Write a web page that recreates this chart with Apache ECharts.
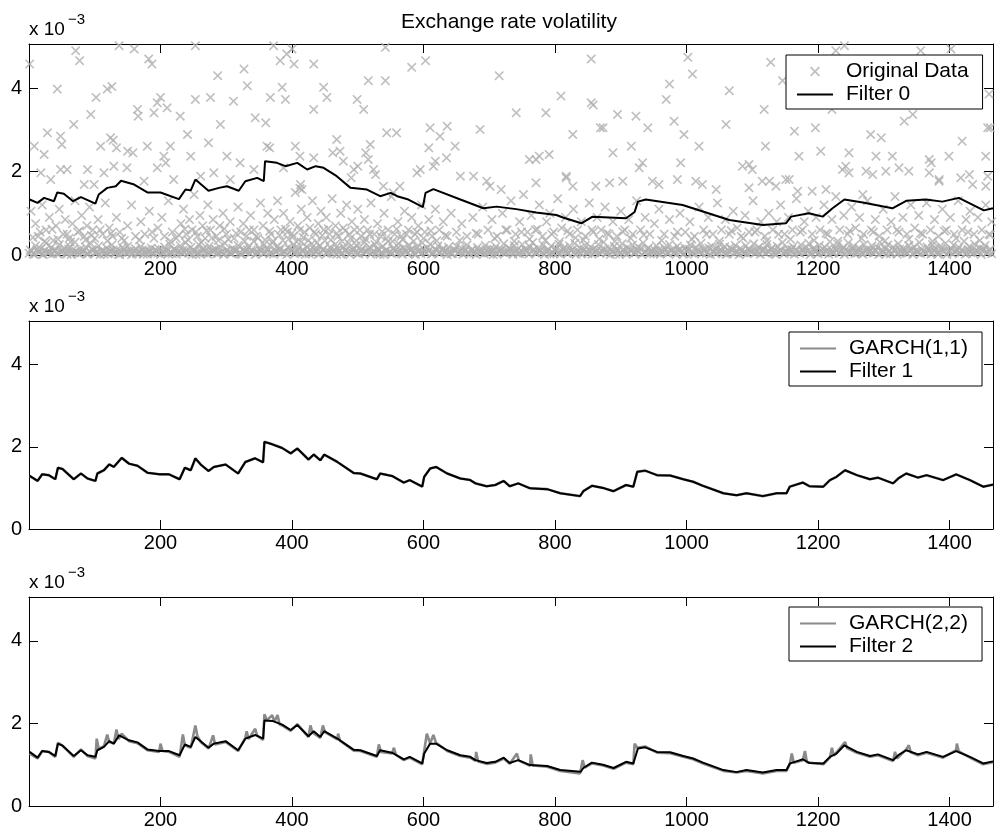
<!DOCTYPE html>
<html>
<head>
<meta charset="utf-8">
<title>Exchange rate volatility</title>
<script src="https://cdn.jsdelivr.net/npm/echarts@6.0.0/dist/echarts.min.js"></script>
<style>
  html, body { margin: 0; padding: 0; background: #fff; }
  #chart { width: 996px; height: 833px; }
</style>
</head>
<body>
<div id="chart"></div>
<script>
// values are in units of 1e-3, x is the observation index
const xTicks = [200, 400, 600, 800, 1000, 1200, 1400];
const yTicks = [0, 2, 4];

// squared returns: the dense band near zero, one value every 4 observations from x = 2
const lowStart = 2;
const lowStep = 4;
const lowBand = [
  0.12,0.03,0.22,0.08,0.15,0.01,0.28,0.06,0.18,0.10,
  0.04,0.25,0.09,0.16,0.02,0.20,0.11,0.31,0.05,0.14,
  0.08,0.19,0.03,0.27,0.12,0.06,0.22,0.10,0.02,0.17,
  0.09,0.24,0.05,0.13,0.01,0.18,0.07,0.21,0.11,0.04,
  0.15,0.06,0.20,0.02,0.12,0.08,0.17,0.03,0.10,0.14,
  0.05,0.19,0.09,0.26,0.03,0.13,0.07,0.22,0.11,0.30,
  0.06,0.18,0.12,0.02,0.25,0.08,0.15,0.04,0.21,0.10,
  0.13,0.03,0.19,0.07,0.28,0.11,0.05,0.16,0.09,0.23,
  0.02,0.14,0.08,0.20,0.12,0.33,0.06,0.17,0.10,0.26,
  0.15,0.04,0.29,0.09,0.21,0.13,0.35,0.07,0.18,0.11,
  0.24,0.06,0.16,0.31,0.10,0.20,0.03,0.27,0.14,0.08,
  0.22,0.12,0.34,0.05,0.18,0.09,0.26,0.15,0.02,0.20,
  0.11,0.28,0.07,0.17,0.23,0.04,0.14,0.30,0.09,0.19,
  0.06,0.25,0.13,0.02,0.21,0.10,0.32,0.07,0.16,0.12,
  0.27,0.05,0.18,0.09,0.24,0.14,0.03,0.20,0.11,0.29,
  0.08,0.17,0.26,0.04,0.13,0.22,0.07,0.15,0.10,0.19,
  0.03,0.12,0.21,0.06,0.16,0.09,0.24,0.02,0.14,0.08,
  0.18,0.05,0.11,0.23,0.07,0.15,0.01,0.20,0.10,0.13,
  0.27,0.06,0.17,0.09,0.22,0.12,0.04,0.25,0.14,0.08,
  0.19,0.30,0.05,0.16,0.11,0.24,0.07,0.13,0.21,0.03,
  0.15,0.26,0.09,0.18,0.04,0.22,0.12,0.28,0.06,0.17,
  0.10,0.23,0.03,0.19,0.14,0.08,0.25,0.11,0.31,0.05,
  0.16,0.09,0.21,0.13,0.02,0.27,0.07,0.18,0.12,0.24,
  0.06,0.20,0.15,0.29,0.08,0.17,0.11,0.03,0.22,0.13,
  0.09,0.18,0.05,0.25,0.12,0.07,0.21,0.14,0.02,0.16,
  0.11,0.24,0.06,0.19,0.09,0.28,0.13,0.04,0.17,0.21,
  0.07,0.15,0.26,0.10,0.20,0.03,0.18,0.12,0.23,0.08,
  0.16,0.05,0.22,0.13,0.09,0.27,0.06,0.19,0.11,0.14,
  0.25,0.08,0.17,0.03,0.21,0.12,0.30,0.07,0.15,0.10,
  0.20,0.13,0.06,0.24,0.09,0.18,0.28,0.04,0.16,0.11,
  0.23,0.07,0.19,0.12,0.32,0.05,0.15,0.26,0.09,0.18,
  0.13,0.29,0.06,0.21,0.10,0.17,0.04,0.25,0.14,0.08,
  0.22,0.11,0.18,0.31,0.07,0.15,0.24,0.03,0.19,0.12,
  0.27,0.09,0.16,0.05,0.23,0.13,0.20,0.08,0.30,0.14,
  0.06,0.19,0.11,0.25,0.17,0.02,0.22,0.10,0.28,0.07,
  0.15,0.24,0.09,0.18,0.12,0.33,0.05,0.20,0.13,0.26,
  0.08,0.17,0.11,0.23,0.06,0.14
];

// the smallest squared returns, one every 4 observations from x = 0
const tinyStart = 0;
const tinyStep = 4;
const tinyBand = [
  0.04,0.09,0.01,0.13,0.06,0.02,0.11,0.05,0.08,0.03,
  0.12,0.02,0.07,0.10,0.04,0.14,0.01,0.06,0.09,0.03,
  0.05,0.11,0.02,0.08,0.13,0.04,0.07,0.01,0.10,0.06,
  0.03,0.09,0.12,0.05,0.02,0.08,0.14,0.04,0.06,0.01,
  0.10,0.03,0.07,0.12,0.05,0.02,0.09,0.06,0.13,0.04,
  0.01,0.08,0.11,0.03,0.06,0.14,0.02,0.09,0.05,0.07,
  0.12,0.04,0.01,0.10,0.06,0.03,0.13,0.08,0.02,0.05,
  0.09,0.14,0.04,0.07,0.01,0.11,0.06,0.03,0.10,0.12,
  0.05,0.02,0.08,0.13,0.04,0.09,0.01,0.06,0.11,0.03,
  0.07,0.12,0.05,0.02,0.10,0.14,0.04,0.08,0.01,0.06,
  0.13,0.03,0.09,0.05,0.11,0.02,0.07,0.12,0.04,0.10,
  0.01,0.06,0.14,0.03,0.08,0.05,0.12,0.02,0.09,0.04,
  0.11,0.07,0.01,0.13,0.06,0.03,0.10,0.05,0.08,0.14,
  0.02,0.09,0.04,0.12,0.06,0.01,0.11,0.07,0.03,0.10,
  0.05,0.13,0.02,0.08,0.04,0.12,0.06,0.01,0.09,0.03,
  0.14,0.05,0.10,0.02,0.07,0.11,0.04,0.13,0.06,0.01,
  0.08,0.03,0.12,0.05,0.09,0.02,0.14,0.06,0.10,0.04,
  0.01,0.11,0.07,0.03,0.13,0.05,0.08,0.12,0.02,0.09,
  0.06,0.04,0.10,0.14,0.01,0.07,0.03,0.11,0.05,0.12,
  0.02,0.08,0.13,0.04,0.09,0.06,0.01,0.10,0.03,0.07,
  0.12,0.05,0.02,0.14,0.08,0.04,0.11,0.06,0.01,0.09,
  0.03,0.13,0.07,0.10,0.02,0.05,0.12,0.04,0.08,0.14,
  0.06,0.01,0.09,0.03,0.11,0.07,0.13,0.02,0.05,0.10,
  0.04,0.12,0.08,0.01,0.06,0.14,0.03,0.09,0.11,0.05,
  0.02,0.07,0.13,0.04,0.10,0.06,0.01,0.12,0.08,0.03,
  0.09,0.14,0.05,0.02,0.11,0.07,0.04,0.13,0.06,0.01,
  0.10,0.03,0.08,0.12,0.05,0.02,0.09,0.14,0.04,0.07,
  0.01,0.11,0.06,0.03,0.13,0.08,0.05,0.10,0.02,0.12,
  0.04,0.09,0.14,0.06,0.01,0.07,0.11,0.03,0.08,0.05,
  0.13,0.02,0.10,0.04,0.12,0.06,0.09,0.01,0.14,0.07,
  0.03,0.11,0.05,0.08,0.02,0.13,0.06,0.10,0.04,0.12,
  0.01,0.09,0.07,0.14,0.03,0.05,0.11,0.02,0.08,0.06,
  0.12,0.04,0.10,0.01,0.13,0.07,0.03,0.09,0.05,0.11,
  0.02,0.14,0.06,0.08,0.04,0.12,0.01,0.10,0.07,0.03,
  0.09,0.05,0.13,0.02,0.11,0.06,0.04,0.14,0.08,0.01,
  0.10,0.03,0.07,0.12,0.05,0.09,0.02,0.13,0.06,0.04,
  0.11,0.08,0.01,0.14,0.05,0.10,0.03
];

// squared returns between about 0.3 and 0.65
const lowMidPoints = [
  [6,0.42],[17,0.55],[24,0.33],[35,0.62],[44,0.38],[58,0.5],[63,0.31],[77,0.58],[86,0.36],[95,0.47],
  [108,0.6],[119,0.34],[125,0.52],[141,0.4],[168,0.36],[187,0.55],[215,0.33],[228,0.48],[237,0.62],[242,0.36],
  [254,0.55],[262,0.3],[270,0.58],[278,0.41],[288,0.35],[297,0.63],[303,0.38],[315,0.52],[328,0.33],[335,0.6],
  [346,0.45],[359,0.36],[366,0.57],[371,0.33],[381,0.48],[390,0.62],[395,0.38],[400,0.52],[407,0.32],[412,0.6],
  [417,0.42],[425,0.35],[434,0.55],[438,0.3],[446,0.47],[455,0.63],[459,0.36],[468,0.52],[476,0.33],[481,0.58],
  [489,0.4],[498,0.34],[503,0.6],[512,0.38],[518,0.5],[528,0.31],[537,0.56],[543,0.4],[553,0.33],[559,0.62],
  [568,0.37],[574,0.5],[585,0.33],[590,0.55],[600,0.4],[611,0.58],[620,0.34],[633,0.47],[655,0.35],[680,0.52],
  [708,0.4],[725,0.6],[738,0.33],[749,0.55],[761,0.38],[773,0.62],[785,0.35],[795,0.5],[807,0.32],[819,0.58],
  [831,0.41],[843,0.36],[856,0.6],[867,0.38],[879,0.52],[891,0.33],[903,0.56],[915,0.4],[935,0.48],[962,0.35],
  [986,0.55],[1008,0.38],[1030,0.5],[1050,0.33],[1068,0.58],[1086,0.4],[1104,0.55],[1122,0.34],[1140,0.5],[1158,0.38],
  [1176,0.6],[1194,0.35],[1212,0.52],[1230,0.33],[1248,0.58],[1266,0.4],[1284,0.55],[1302,0.34],[1320,0.6],[1338,0.38],
  [1356,0.52],[1374,0.33],[1392,0.57],[1410,0.4],[1428,0.55],[1446,0.35],[1462,0.48]
];

// squared returns between about 0.35 and 1.5
const midPoints = [
  [3,1.05],[10,0.75],[14,0.45],[20,1.2],[26,0.6],[31,0.9],[37,0.35],[41,0.7],[46,1.1],[52,0.5],
  [55,0.85],[61,0.4],[66,0.75],[70,1.3],[74,0.55],[80,0.95],[84,0.45],[88,0.7],[92,1.15],[97,0.6],
  [100,0.4],[105,0.85],[112,0.5],[116,1.25],[122,0.65],[127,0.45],[133,0.9],[138,0.55],[145,0.35],[150,0.7],
  [156,1.2],[162,0.45],[170,0.8],[176,0.5],[183,1.05],[190,0.4],[196,0.65],[202,0.9],[206,0.45],[212,1.3],
  [218,0.55],[224,0.4],[231,0.75],[235,1.1],[239,0.5],[244,0.85],[248,0.6],[251,1.45],[256,0.45],[260,0.95],
  [264,0.7],[268,0.4],[272,1.2],[276,0.6],[280,0.85],[285,0.45],[290,0.7],[295,1.0],[300,0.5],[306,0.8],
  [312,0.4],[318,1.15],[322,0.55],[326,0.75],[331,0.45],[337,0.95],[342,0.6],[348,0.4],[352,1.25],[356,0.7],
  [363,1.0],[368,0.5],[373,0.85],[378,1.3],[383,0.6],[387,1.0],[393,0.55],[397,0.8],[402,0.45],[405,1.5],
  [409,0.7],[414,1.1],[419,0.55],[423,0.9],[427,0.65],[431,1.3],[436,0.5],[440,0.75],[444,1.05],[448,0.6],
  [452,0.9],[457,0.5],[461,1.35],[466,0.7],[470,0.45],[474,1.0],[478,0.65],[483,1.2],[487,0.5],[491,0.8],
  [495,0.6],[500,1.1],[505,0.45],[510,0.85],[515,0.6],[520,1.25],[525,0.5],[530,0.75],[535,0.45],[540,1.0],
  [546,0.6],[551,1.4],[556,0.5],[561,0.8],[566,0.45],[571,1.05],[577,0.6],[582,0.9],[587,0.5],[592,0.7],
  [597,1.2],[602,0.55],[608,0.85],[613,0.45],[618,1.1],[624,0.6],[630,0.8],[636,0.45],[642,1.0],[650,0.55],
  [658,0.75],[666,0.45],[675,0.9],[683,0.5],[690,1.15],[698,0.6],[704,0.85],[712,0.45],[720,1.0],[727,0.6],
  [733,1.3],[740,0.5],[746,0.8],[752,1.45],[758,0.55],[764,0.95],[770,0.6],[776,1.2],[781,0.45],[787,0.8],
  [792,1.0],[798,0.55],[804,1.35],[810,0.65],[816,0.9],[822,0.5],[828,1.1],[834,0.6],[840,0.8],[846,0.45],
  [852,1.25],[858,0.55],[864,0.9],[870,0.6],[876,1.15],[882,0.5],[888,0.8],[894,0.45],[900,1.05],[906,0.6],
  [912,0.85],[918,0.5],[924,1.3],[930,0.6],[937,0.9],[944,0.5],[951,0.75],[958,1.1],[966,0.5],[974,0.85],
  [982,0.45],[990,1.0],[998,0.55],[1005,0.8],[1012,0.45],[1019,1.15],[1026,0.6],[1033,0.9],[1040,0.5],[1047,1.25],
  [1053,0.6],[1059,0.85],[1065,0.5],[1071,1.05],[1077,0.65],[1083,0.45],[1089,0.95],[1095,0.55],[1101,1.3],[1107,0.6],
  [1113,0.8],[1119,0.45],[1125,1.0],[1131,0.6],[1137,0.8],[1143,1.2],[1149,0.5],[1155,0.9],[1161,0.6],[1167,1.35],
  [1173,0.55],[1179,0.8],[1185,1.05],[1191,0.5],[1197,0.9],[1203,0.6],[1209,1.2],[1215,0.5],[1221,0.85],[1227,1.4],
  [1233,0.6],[1239,0.95],[1245,0.5],[1251,1.15],[1257,0.65],[1263,0.9],[1269,0.5],[1275,1.3],[1281,0.6],[1287,0.85],
  [1293,0.45],[1299,1.1],[1305,0.6],[1311,0.8],[1317,1.4],[1323,0.55],[1329,0.9],[1335,0.5],[1341,1.2],[1347,0.65],
  [1353,0.95],[1359,0.5],[1365,1.25],[1371,0.6],[1377,0.85],[1383,0.45],[1389,1.1],[1395,0.6],[1401,0.9],[1407,0.5],
  [1413,1.3],[1419,0.6],[1425,0.85],[1431,1.05],[1437,0.5],[1443,0.9],[1449,0.6],[1455,1.2],[1460,0.5],[1464,0.8]
];

// squared returns above 1.5
const highPoints = [
  [1,4.58],[43,3.98],[71,4.90],[77,4.66],[94,3.37],[68,3.13],[28,2.93],[48,2.85],[8,2.61],[23,2.41],
  [50,2.65],[18,1.97],[33,1.81],[48,2.05],[89,2.05],[109,2.61],[124,2.81],[128,2.75],[119,3.98],[126,4.04],
  [102,3.78],[137,5.02],[160,4.94],[182,4.70],[187,4.58],[165,3.49],[166,3.33],[190,3.41],[200,3.78],[195,3.65],
  [210,3.53],[230,3.33],[180,2.61],[205,2.37],[208,2.21],[215,2.61],[241,2.89],[246,2.37],[253,3.73],[276,3.78],
  [287,4.30],[253,5.02],[273,2.69],[291,3.13],[301,2.37],[311,3.69],[327,4.46],[332,4.06],[344,3.29],[360,3.17],
  [362,2.61],[367,3.78],[372,5.02],[385,4.02],[390,3.73],[382,4.66],[392,4.82],[400,4.94],[403,4.58],[433,4.58],
  [433,3.49],[448,4.02],[453,3.78],[468,2.77],[405,2.61],[413,1.69],[415,1.57],[499,3.73],[509,3.49],[519,2.65],
  [516,2.29],[544,2.93],[559,2.93],[516,4.18],[542,4.18],[542,4.98],[582,4.50],[603,4.66],[610,3.05],[636,3.09],
  [608,2.57],[648,2.61],[625,2.85],[618,2.25],[686,3.01],[715,4.30],[676,1.89],[696,1.77],[595,2.05],[539,1.65],
  [554,1.49],[133,2.57],[150,2.49],[158,2.45],[366,2.57],[412,1.60],[462,2.45],[478,2.25],[490,1.85],[500,2.13],
  [512,2.45],[527,1.93],[58,2.05],[84,1.69],[99,1.69],[114,1.97],[129,2.13],[149,2.09],[175,1.77],[195,2.09],
  [220,1.81],[261,1.89],[281,1.97],[306,1.81],[321,2.21],[342,2.05],[387,2.09],[412,2.37],[433,2.33],[473,2.49],
  [494,2.05],[524,2.05],[564,1.65],[590,1.97],[615,2.13],[635,2.33],[656,1.89],[701,1.65],
  [741,3.41],[786,3.41],[809,3.81],[855,4.70],[855,3.65],[858,3.60],[827,2.89],[873,3.05],[869,3.05],[895,3.37],
  [923,3.33],[941,3.05],[916,2.61],[974,4.10],[969,3.73],[1002,4.74],[1009,4.34],[981,3.21],[996,2.89],[1019,2.61],
  [1065,3.94],[1060,3.13],[1128,4.62],[1118,3.49],[1120,2.61],[1146,4.18],[1164,2.97],[1171,2.37],[1196,3.05],[1204,2.49],
  [1227,4.90],[1240,5.02],[1221,3.49],[1247,2.45],[1280,2.89],[1296,2.81],[1288,2.37],[1313,2.37],[1338,2.01],[1331,3.21],
  [1344,3.37],[1356,4.90],[1402,4.94],[1369,2.29],[1372,2.21],[1399,2.37],[1419,2.73],[1455,2.37],[1458,3.05],[1460,3.86],
  [1462,3.05],[1458,1.89],[1430,1.93],[1384,1.77],[1273,2.01],[1237,2.05],[1100,2.05],[1095,2.17],[991,2.21],[933,2.21],
  [888,2.45],[771,2.29],[791,2.41],[817,1.89],[771,1.73],[718,1.57],[1095,1.61],[1126,1.77],[1156,1.81],[1268,1.45],
  [761,2.29],[776,2.37],[817,1.85],[827,1.65],[862,1.65],[883,1.73],[903,1.77],[928,2.09],[948,1.77],[958,1.69],
  [986,1.81],[1014,1.77],[1024,1.69],[1045,1.57],[1085,2.13],[1115,1.77],[1136,1.65],[1151,1.81],[1169,1.53],[1191,1.53],
  [1212,1.57],[1242,2.13],[1247,1.97],[1283,1.93],[1303,2.01],[1323,2.09],[1369,1.97],[1384,1.81],[1417,1.85],[1435,1.69],
  [1455,1.65]
];

const filter0 = [
  [1,1.33],[13,1.25],[23,1.37],[38,1.29],[43,1.50],[53,1.47],[67,1.29],[79,1.39],[101,1.23],[106,1.45],
  [119,1.61],[132,1.65],[140,1.78],[160,1.69],[180,1.50],[200,1.50],[228,1.34],[238,1.57],[246,1.55],[253,1.81],
  [273,1.54],[289,1.61],[301,1.65],[319,1.54],[329,1.77],[347,1.85],[357,1.77],[359,2.25],[377,2.21],[390,2.13],
  [408,2.21],[423,2.05],[436,2.13],[448,2.09],[468,1.89],[489,1.61],[514,1.57],[534,1.41],[550,1.49],[560,1.41],
  [577,1.33],[599,1.15],[603,1.49],[615,1.58],[656,1.33],[691,1.12],[711,1.16],[741,1.10],[771,1.02],[802,0.96],
  [812,0.90],[840,0.76],[857,0.92],[908,0.88],[921,1.03],[926,1.28],[938,1.33],[994,1.20],[1065,0.84],[1116,0.72],
  [1151,0.76],[1159,0.92],[1186,1.00],[1207,0.92],[1222,1.12],[1240,1.33],[1268,1.26],[1313,1.12],[1334,1.30],[1364,1.33],
  [1389,1.28],[1414,1.37],[1452,1.07],[1466,1.12]
];

const filter1 = [
  [1,1.29],[13,1.17],[20,1.33],[30,1.31],[40,1.21],[44,1.49],[51,1.46],[68,1.21],[79,1.35],[89,1.23],
  [101,1.17],[104,1.35],[114,1.43],[122,1.57],[129,1.51],[141,1.73],[152,1.59],[165,1.54],[180,1.37],[198,1.33],
  [213,1.33],[229,1.21],[237,1.49],[246,1.43],[253,1.72],[261,1.57],[273,1.41],[281,1.51],[299,1.57],[318,1.35],
  [329,1.63],[344,1.72],[356,1.62],[358,2.12],[370,2.06],[385,1.97],[398,1.84],[408,1.96],[425,1.69],[433,1.81],
  [443,1.67],[449,1.81],[469,1.63],[494,1.36],[504,1.35],[529,1.21],[534,1.35],[552,1.29],[570,1.13],[579,1.19],
  [598,1.03],[601,1.27],[610,1.47],[619,1.51],[636,1.35],[656,1.23],[671,1.19],[679,1.11],[696,1.04],[709,1.07],
  [722,1.17],[731,1.04],[744,1.11],[762,0.99],[788,0.97],[808,0.87],[838,0.80],[843,0.92],[856,1.05],[873,1.00],
  [889,0.92],[908,1.07],[919,1.03],[925,1.39],[937,1.42],[955,1.31],[975,1.30],[995,1.21],[1010,1.15],[1025,1.05],
  [1056,0.87],[1076,0.82],[1091,0.87],[1116,0.80],[1137,0.87],[1152,0.87],[1157,1.03],[1167,1.08],[1177,1.13],[1187,1.04],
  [1208,1.03],[1218,1.19],[1228,1.27],[1241,1.43],[1259,1.31],[1279,1.21],[1291,1.25],[1314,1.11],[1322,1.23],[1334,1.35],
  [1352,1.25],[1365,1.31],[1390,1.19],[1410,1.33],[1431,1.19],[1451,1.03],[1466,1.08]
];

// GARCH(1,1) sits right under Filter 1
const garch11 = filter1;

const filter2 = [
  [1,1.31],[13,1.17],[20,1.33],[30,1.31],[40,1.21],[44,1.51],[51,1.46],[68,1.21],[79,1.35],[89,1.23],
  [101,1.19],[104,1.35],[114,1.43],[122,1.57],[129,1.51],[137,1.71],[152,1.59],[165,1.54],[180,1.37],[198,1.33],
  [213,1.33],[229,1.23],[237,1.49],[246,1.43],[253,1.67],[261,1.57],[273,1.41],[281,1.51],[299,1.57],[318,1.35],
  [329,1.63],[344,1.72],[356,1.63],[358,2.07],[370,2.06],[385,1.97],[398,1.84],[408,1.96],[425,1.69],[433,1.81],
  [443,1.67],[449,1.81],[469,1.63],[494,1.36],[504,1.35],[529,1.21],[534,1.35],[552,1.29],[570,1.13],[579,1.19],
  [598,1.03],[601,1.27],[610,1.51],[619,1.51],[636,1.35],[656,1.23],[671,1.19],[679,1.11],[696,1.04],[709,1.07],
  [722,1.17],[731,1.04],[744,1.11],[762,0.99],[788,0.97],[808,0.87],[839,0.83],[843,0.92],[856,1.05],[873,1.00],
  [889,0.92],[908,1.07],[919,1.03],[926,1.39],[937,1.42],[955,1.31],[975,1.30],[995,1.21],[1010,1.15],[1025,1.05],
  [1056,0.87],[1076,0.82],[1091,0.87],[1116,0.81],[1137,0.87],[1152,0.87],[1157,1.03],[1167,1.08],[1177,1.13],[1187,1.04],
  [1208,1.03],[1218,1.19],[1228,1.27],[1240,1.47],[1259,1.31],[1279,1.21],[1291,1.25],[1314,1.11],[1322,1.23],[1334,1.35],
  [1352,1.25],[1365,1.31],[1390,1.19],[1410,1.33],[1431,1.19],[1451,1.03],[1466,1.08]
];

const garch22 = [
  [1,1.27],[13,1.15],[20,1.33],[30,1.31],[40,1.19],[44,1.53],[51,1.46],[68,1.19],[79,1.37],[89,1.21],
  [101,1.15],[103,1.63],[106,1.38],[114,1.45],[119,1.73],[122,1.55],[129,1.51],[133,1.85],[136,1.62],[141,1.75],
  [152,1.57],[165,1.52],[180,1.35],[198,1.31],[200,1.51],[203,1.33],[213,1.31],[229,1.19],[234,1.73],[237,1.47],
  [246,1.41],[253,1.95],[256,1.70],[261,1.55],[273,1.39],[280,1.71],[283,1.49],[299,1.55],[318,1.33],[329,1.65],
  [331,1.81],[334,1.62],[344,1.87],[347,1.70],[356,1.60],[358,2.22],[362,2.08],[370,2.20],[373,2.04],[378,2.20],
  [381,1.98],[385,1.95],[398,1.82],[408,1.98],[425,1.67],[428,1.95],[431,1.78],[443,1.65],[447,1.95],[450,1.79],
  [469,1.61],[470,1.75],[473,1.58],[494,1.34],[504,1.33],[529,1.19],[532,1.49],[535,1.31],[552,1.27],[555,1.41],
  [558,1.24],[570,1.11],[579,1.17],[598,1.01],[601,1.33],[605,1.75],[610,1.52],[615,1.72],[619,1.53],[636,1.33],
  [656,1.21],[671,1.17],[679,1.09],[680,1.31],[683,1.08],[696,1.02],[709,1.05],[722,1.15],[731,1.02],[742,1.27],
  [745,1.10],[762,0.97],[763,1.25],[766,0.98],[788,0.95],[808,0.85],[838,0.79],[842,1.11],[845,0.93],[856,1.03],
  [873,0.98],[889,0.90],[908,1.05],[919,1.01],[921,1.51],[925,1.41],[937,1.44],[955,1.29],[975,1.28],[995,1.19],
  [1010,1.13],[1025,1.03],[1056,0.85],[1076,0.81],[1091,0.85],[1116,0.79],[1137,0.85],[1152,0.85],[1157,1.01],[1160,1.27],
  [1163,1.05],[1177,1.11],[1180,1.33],[1183,1.06],[1208,1.01],[1218,1.17],[1221,1.41],[1224,1.22],[1241,1.55],[1244,1.40],
  [1259,1.29],[1279,1.19],[1291,1.23],[1314,1.09],[1317,1.31],[1320,1.15],[1334,1.37],[1338,1.47],[1341,1.30],[1352,1.23],
  [1365,1.29],[1390,1.17],[1410,1.35],[1411,1.51],[1414,1.32],[1431,1.17],[1451,1.01],[1466,1.06]
];

const xMax = 1466;
const yMax = 5.06;
const font = 'Liberation Sans, Arial, Helvetica, sans-serif';
const crossPath = 'path://M0,1.2L1.2,0L5,3.8L8.8,0L10,1.2L6.2,5L10,8.8L8.8,10L5,6.2L1.2,10L0,8.8L3.8,5Z';
const lineIcon = 'path://M0,0L36,0L36,2L0,2Z';
const grey = '#afafaf';
const midGrey = '#8a8a8a';

const rawData = [];
tinyBand.forEach((v, i) => rawData.push([tinyStart + i * tinyStep, v]));
lowBand.forEach((v, i) => rawData.push([lowStart + i * lowStep, v]));
lowMidPoints.forEach(p => rawData.push(p));
midPoints.forEach(p => rawData.push(p));
highPoints.forEach(p => rawData.push(p));

const grids = [
  { left: 29, top: 44, width: 964, height: 211 },
  { left: 29, top: 321, width: 964, height: 208 },
  { left: 29, top: 597, width: 964, height: 209 }
];

const xAxes = [];
const yAxes = [];
grids.forEach((g, i) => {
  ['bottom', 'top'].forEach(pos => {
    xAxes.push({
      gridIndex: i, type: 'value', position: pos, min: 0, max: xMax, interval: 200,
      axisLine: { show: true, onZero: false, lineStyle: { color: '#000', width: 1 } },
      axisTick: { show: true, inside: true, length: 9, lineStyle: { color: '#000' } },
      axisLabel: {
        show: pos === 'bottom', margin: 4, fontSize: 20, fontFamily: font, color: '#000',
        showMinLabel: false, showMaxLabel: false,
        formatter: v => (xTicks.indexOf(v) >= 0 ? String(v) : '')
      },
      splitLine: { show: false }
    });
  });
  ['left', 'right'].forEach(pos => {
    yAxes.push({
      gridIndex: i, type: 'value', position: pos, min: 0, max: yMax, interval: 2,
      axisLine: { show: true, onZero: false, lineStyle: { color: '#000', width: 1 } },
      axisTick: { show: true, inside: true, length: 9, lineStyle: { color: '#000' } },
      axisLabel: {
        show: pos === 'left', margin: 7, fontSize: 20, fontFamily: font, color: '#000',
        showMaxLabel: false,
        formatter: v => (yTicks.indexOf(v) >= 0 ? String(v) : '')
      },
      splitLine: { show: false }
    });
  });
});

function lineSeries(name, data, panel, color, width) {
  return {
    name: name, type: 'line', data: data,
    xAxisIndex: panel * 2, yAxisIndex: panel * 2,
    symbol: 'none', silent: true, animation: false,
    lineStyle: { color: color, width: width }, itemStyle: { color: color }
  };
}

function legendFor(names, left, top) {
  return {
    orient: 'vertical', left: left, top: top, data: names,
    itemWidth: 36, itemHeight: 10, itemGap: 2,
    padding: [6, 14, 4, 11],
    backgroundColor: '#fff', borderColor: '#000', borderWidth: 1, borderRadius: 0,
    selectedMode: false,
    textStyle: { fontSize: 21, fontFamily: font, color: '#000', padding: [0, 0, 0, 8] }
  };
}

function expLabel(g) {
  return [
    { type: 'text', left: g.left, top: g.top - 24, style: { text: 'x 10', font: '19px ' + font, fill: '#000' } },
    { type: 'text', left: g.left + 39, top: g.top - 32, style: { text: '\u22123', font: '15px ' + font, fill: '#000' } }
  ];
}

const myChart = echarts.init(document.getElementById('chart'), null, { renderer: 'canvas' });
let option = {
  backgroundColor: '#fff',
  animation: false,
  textStyle: { fontFamily: font },
  grid: grids.map(g => Object.assign({ outerBoundsMode: 'none', containLabel: false }, g)),
  xAxis: xAxes,
  yAxis: yAxes,
  legend: [
    legendFor([{ name: 'Original Data', icon: crossPath }, { name: 'Filter 0', icon: lineIcon }], 786, 55),
    legendFor([{ name: 'GARCH(1,1)', icon: lineIcon }, { name: 'Filter 1', icon: lineIcon }], 789, 332),
    legendFor([{ name: 'GARCH(2,2)', icon: lineIcon }, { name: 'Filter 2', icon: lineIcon }], 789, 607)
  ],
  graphic: [
    { type: 'text', left: 401, top: 12, style: { text: 'Exchange rate volatility', font: '21px ' + font, fill: '#000' } }
  ].concat(expLabel(grids[0]), expLabel(grids[1]), expLabel(grids[2])),
  series: [
    {
      name: 'Original Data', type: 'scatter', data: rawData,
      xAxisIndex: 0, yAxisIndex: 0,
      symbol: crossPath, symbolSize: 9.5, silent: true, animation: false,
      itemStyle: { color: grey }
    },
    lineSeries('Filter 0', filter0, 0, '#000', 2),
    lineSeries('GARCH(1,1)', garch11, 1, midGrey, 2.6),
    lineSeries('Filter 1', filter1, 1, '#000', 2),
    lineSeries('GARCH(2,2)', garch22, 2, midGrey, 2.6),
    lineSeries('Filter 2', filter2, 2, '#000', 2)
  ]
};

option && myChart.setOption(option);
</script>
</body>
</html>
